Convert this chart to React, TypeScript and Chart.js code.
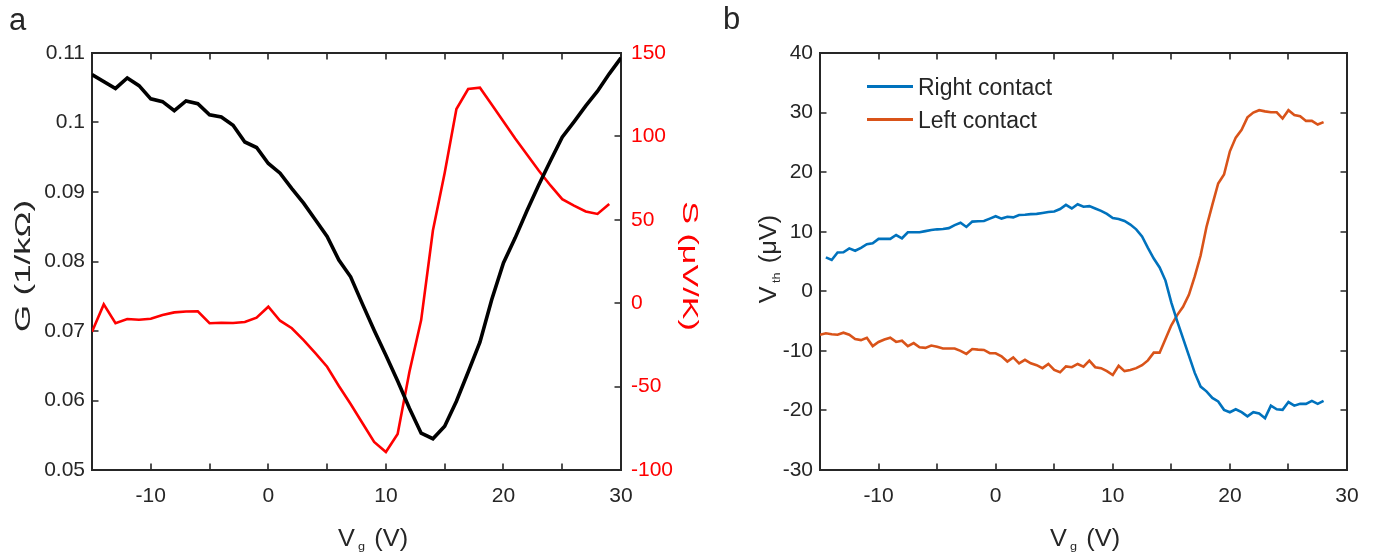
import React, { useEffect, useRef } from 'react';
import { Chart, registerables } from 'chart.js';
Chart.register(...registerables);

// ---------- Panel a data ----------
const gateG = [-15, -13, -12, -11, -10, -9, -8, -7, -6, -5, -4, -3, -2, -1, 0, 1, 2, 3, 4, 5, 6, 7, 8, 9, 10, 11, 12, 13, 14, 15, 16, 17, 18, 19, 20, 21, 22, 23, 24, 25, 26, 27, 28, 29, 30];
const conductance = [0.1069, 0.1049, 0.1064, 0.1053, 0.1034, 0.1030, 0.1017, 0.1031, 0.1027, 0.1011, 0.1008, 0.0996, 0.0972, 0.0964, 0.0941, 0.0927, 0.0905, 0.0884, 0.0860, 0.0836, 0.0802, 0.0778, 0.0739, 0.0701, 0.0665, 0.0628, 0.0589, 0.0553, 0.0545, 0.0563, 0.0599, 0.0641, 0.0684, 0.0745, 0.0798, 0.0834, 0.0873, 0.0910, 0.0945, 0.0979, 0.1001, 0.1024, 0.1045, 0.1070, 0.1093];
const gateS = [-15, -14, -13, -12, -11, -10, -9, -8, -7, -6, -5, -4, -3, -2, -1, 0, 1, 2, 3, 4, 5, 6, 7, 8, 9, 10, 11, 12, 13, 14, 15, 16, 17, 18, 19, 20, 21, 22, 23, 24, 25, 26, 27, 28, 29];
const seebeck = [-17.1, -0.7, -12.0, -9.5, -9.9, -9.3, -7.1, -5.5, -5.0, -4.9, -12.0, -11.7, -11.9, -11.3, -8.7, -2.1, -10.5, -15.0, -22.1, -30.0, -38.1, -49.6, -60.4, -71.8, -83.2, -89.2, -78.4, -41.2, -10.1, 43.6, 78.1, 116.4, 128.4, 129.2, 119.1, 108.9, 98.8, 89.2, 79.6, 70.6, 62.4, 58.5, 55.0, 53.5, 59.5];
const gTicks = [0.05, 0.06, 0.07, 0.08, 0.09, 0.1, 0.11];
const sTicks = [-100, -50, 0, 50, 100, 150];

// ---------- Panel b data ----------
const gateRight = [-14.5, -14, -13.5, -13, -12.5, -12, -11.5, -11, -10.5, -10, -9.5, -9, -8.5, -8, -7.5, -7, -6.5, -6, -5.5, -5, -4.5, -4, -3.5, -3, -2.5, -2, -1.5, -1, -0.5, 0, 0.5, 1, 1.5, 2, 2.5, 3, 3.5, 4, 4.5, 5, 5.5, 6, 6.5, 7, 7.5, 8, 8.5, 9, 9.5, 10, 10.5, 11, 11.5, 12, 12.5, 13, 13.5, 14, 14.5, 15, 15.5, 16, 16.5, 17, 17.5, 18, 18.5, 19, 19.5, 20, 20.5, 21, 21.5, 22, 22.5, 23, 23.5, 24, 24.5, 25, 25.5, 26, 26.5, 27, 27.5, 28];
const rightContact = [5.7, 5.25, 6.5, 6.55, 7.2, 6.8, 7.3, 7.9, 8.05, 8.8, 8.8, 8.8, 9.45, 8.9, 9.9, 9.9, 9.9, 10.1, 10.3, 10.4, 10.45, 10.6, 11.1, 11.5, 10.8, 11.7, 11.75, 11.8, 12.2, 12.6, 12.2, 12.5, 12.4, 12.8, 12.85, 12.95, 13.0, 13.15, 13.3, 13.4, 13.8, 14.5, 13.9, 14.6, 14.2, 14.3, 13.9, 13.5, 13.0, 12.3, 12.15, 11.8, 11.2, 10.4, 9.2, 7.3, 5.5, 4.0, 1.8, -1.9, -5.0, -7.9, -10.8, -13.7, -16.0, -16.8, -17.9, -18.5, -19.9, -20.3, -19.8, -20.3, -21.0, -20.3, -20.5, -21.3, -19.2, -19.8, -19.9, -18.6, -19.2, -18.9, -18.9, -18.4, -18.9, -18.4];
const gateLeft = [-15, -14.5, -14, -13.5, -13, -12.5, -12, -11.5, -11, -10.5, -10, -9.5, -9, -8.5, -8, -7.5, -7, -6.5, -6, -5.5, -5, -4.5, -4, -3.5, -3, -2.5, -2, -1.5, -1, -0.5, 0, 0.5, 1, 1.5, 2, 2.5, 3, 3.5, 4, 4.5, 5, 5.5, 6, 6.5, 7, 7.5, 8, 8.5, 9, 9.5, 10, 10.5, 11, 11.5, 12, 12.5, 13, 13.5, 14, 14.5, 15, 15.5, 16, 16.5, 17, 17.5, 18, 18.5, 19, 19.5, 20, 20.5, 21, 21.5, 22, 22.5, 23, 23.5, 24, 24.5, 25, 25.5, 26, 26.5, 27, 27.5, 28];
const leftContact = [-7.3, -7.05, -7.2, -7.3, -6.95, -7.3, -8.0, -8.2, -7.8, -9.2, -8.5, -8.1, -7.8, -8.5, -8.3, -9.2, -8.7, -9.4, -9.5, -9.1, -9.3, -9.6, -9.6, -9.6, -10.0, -10.5, -9.7, -9.8, -9.85, -10.4, -10.4, -10.9, -11.8, -11.1, -12.1, -11.5, -12.1, -12.4, -12.9, -12.2, -13.2, -13.6, -12.6, -12.75, -12.2, -12.66, -11.65, -12.75, -12.9, -13.4, -14.05, -12.5, -13.4, -13.2, -12.9, -12.4, -11.6, -10.3, -10.3, -8.0, -5.7, -4.0, -2.6, -0.6, 2.5, 6.0, 10.8, 14.5, 18.1, 19.6, 23.5, 25.8, 27.1, 29.2, 30.0, 30.4, 30.2, 30.05, 30.05, 29.0, 30.4, 29.6, 29.4, 28.6, 28.6, 28.0, 28.4];
const vthTicks = [-30, -20, -10, 0, 10, 20, 30, 40];
const gateTicks = [-15, -10, -5, 0, 5, 10, 15, 20, 25, 30];

const AXIS = '#262626';
const FONT = "'Liberation Sans', Arial, sans-serif";
const BLUE = '#0072BD';
const ORANGE = '#D95319';
const TICK_SIZE = 21;

const pts = (xs: number[], ys: number[]) => xs.map((x, i) => ({ x, y: ys[i] }));

// draws the box and inward tick marks using the chart's own scales
const frameTicks = {
  id: 'frameTicks',
  beforeDatasetsDraw(chart: any, _args: any, opts: any) {
    const { ctx, chartArea } = chart;
    const { left, right, top, bottom } = chartArea;
    const len = 6.5;
    ctx.save();
    ctx.strokeStyle = AXIS;
    ctx.lineWidth = 2;
    ctx.beginPath();
    ctx.rect(left, top, right - left, bottom - top);
    ctx.stroke();
    ctx.lineWidth = 1.6;
    const xs = chart.scales.x;
    ctx.beginPath();
    xs.ticks.forEach((t: any) => {
      const px = Math.round(xs.getPixelForValue(t.value));
      if (px <= left + 1 || px >= right - 1) return;
      ctx.moveTo(px, bottom); ctx.lineTo(px, bottom - len);
      ctx.moveTo(px, top); ctx.lineTo(px, top + len);
    });
    (opts.y || []).forEach((spec: any) => {
      const s = chart.scales[spec.id];
      s.ticks.forEach((t: any) => {
        const py = Math.round(s.getPixelForValue(t.value));
        if (py <= top + 1 || py >= bottom - 1) return;
        if (spec.left) { ctx.moveTo(left, py); ctx.lineTo(left + len, py); }
        if (spec.right) { ctx.moveTo(right, py); ctx.lineTo(right - len, py); }
      });
    });
    ctx.stroke();
    ctx.restore();
  },
};

const fixedTicks = (values: number[]) => (scale: any) => {
  scale.ticks = values.map((v) => ({ value: v }));
};

function PanelA() {
  const ref = useRef<HTMLCanvasElement>(null);
  useEffect(() => {
    const chart = new Chart(ref.current as HTMLCanvasElement, {
      type: 'line',
      data: {
        datasets: [
          { label: 'G', data: pts(gateG, conductance), borderColor: '#000000', borderWidth: 3.6, pointRadius: 0, yAxisID: 'yG', tension: 0 },
          { label: 'S', data: pts(gateS, seebeck), borderColor: '#FF0000', borderWidth: 2.6, pointRadius: 0, yAxisID: 'yS', tension: 0 },
        ],
      },
      options: {
        animation: false,
        responsive: false,
        devicePixelRatio: 1,
        layout: { padding: { top: 53, left: 0, right: 0, bottom: 0 } },
        plugins: { legend: { display: false }, tooltip: { enabled: false }, frameTicks: { y: [{ id: 'yG', left: true }, { id: 'yS', right: true }] } } as any,
        scales: {
          x: {
            type: 'linear', min: -15, max: 30,
            afterBuildTicks: fixedTicks(gateTicks),
            ticks: { autoSkip: false, maxRotation: 0, padding: 14, color: AXIS, font: { family: FONT, size: TICK_SIZE }, callback: (v: any) => (Number(v) % 10 === 0 ? String(v) : '') },
            grid: { display: false, drawTicks: false },
            border: { display: false },
            afterFit: (s: any) => { s.height = 90; },
          },
          yG: {
            type: 'linear', position: 'left', min: 0.05, max: 0.11,
            afterBuildTicks: fixedTicks(gTicks),
            ticks: { padding: 7, color: AXIS, font: { family: FONT, size: TICK_SIZE }, callback: (v: any) => String(Number(Number(v).toFixed(2))) },
            grid: { display: false, drawTicks: false },
            border: { display: false },
            afterFit: (s: any) => { s.width = 92; },
          },
          yS: {
            type: 'linear', position: 'right', min: -100, max: 150,
            afterBuildTicks: fixedTicks(sTicks),
            ticks: { padding: 10, color: '#FF0000', font: { family: FONT, size: TICK_SIZE }, callback: (v: any) => String(v) },
            grid: { display: false, drawTicks: false },
            border: { display: false },
            afterFit: (s: any) => { s.width = 79; },
          },
        },
      },
      plugins: [frameTicks],
    });
    return () => chart.destroy();
  }, []);
  return <canvas ref={ref} width={700} height={560} style={{ position: 'absolute', left: 0, top: 0, width: 700, height: 560 }} />;
}

function PanelB() {
  const ref = useRef<HTMLCanvasElement>(null);
  useEffect(() => {
    const chart = new Chart(ref.current as HTMLCanvasElement, {
      type: 'line',
      data: {
        datasets: [
          { label: 'Right contact', data: pts(gateRight, rightContact), borderColor: BLUE, borderWidth: 2.6, pointRadius: 0, tension: 0 },
          { label: 'Left contact', data: pts(gateLeft, leftContact), borderColor: ORANGE, borderWidth: 2.6, pointRadius: 0, tension: 0 },
        ],
      },
      options: {
        animation: false,
        responsive: false,
        devicePixelRatio: 1,
        layout: { padding: { top: 53, left: 0, right: 43, bottom: 0 } },
        plugins: { legend: { display: false }, tooltip: { enabled: false }, frameTicks: { y: [{ id: 'y', left: true, right: true }] } } as any,
        scales: {
          x: {
            type: 'linear', min: -15, max: 30,
            afterBuildTicks: fixedTicks(gateTicks),
            ticks: { autoSkip: false, maxRotation: 0, padding: 14, color: AXIS, font: { family: FONT, size: TICK_SIZE }, callback: (v: any) => (Number(v) % 10 === 0 ? String(v) : '') },
            grid: { display: false, drawTicks: false },
            border: { display: false },
            afterFit: (s: any) => { s.height = 90; },
          },
          y: {
            type: 'linear', position: 'left', min: -30, max: 40,
            afterBuildTicks: fixedTicks(vthTicks),
            ticks: { padding: 7, color: AXIS, font: { family: FONT, size: TICK_SIZE }, callback: (v: any) => String(v) },
            grid: { display: false, drawTicks: false },
            border: { display: false },
            afterFit: (s: any) => { s.width = 120; },
          },
        },
      },
      plugins: [frameTicks],
    });
    return () => chart.destroy();
  }, []);
  return <canvas ref={ref} width={690} height={560} style={{ position: 'absolute', left: 700, top: 0, width: 690, height: 560 }} />;
}

const txt: React.CSSProperties = { position: 'absolute', fontFamily: FONT, color: AXIS, whiteSpace: 'nowrap', lineHeight: 1 };
const sub: React.CSSProperties = { fontSize: '0.5em', verticalAlign: '-0.35em', marginLeft: 3, marginRight: 2 };

export default function App() {
  return (
    <div style={{ position: 'fixed', left: 0, top: 0, width: 1390, height: 560, background: '#fff', overflow: 'hidden' }}>
      <PanelA />
      <PanelB />
      <div style={{ ...txt, left: 9, top: 4, fontSize: 31 }}>a</div>
      <div style={{ ...txt, left: 723, top: 3, fontSize: 31 }}>b</div>
      <div style={{ ...txt, left: 23, top: 266, fontSize: 22, transform: 'translate(-50%, -50%) rotate(-90deg) scaleX(1.58)' }}>G (1/kΩ)</div>
      <div style={{ ...txt, left: 690, top: 266, fontSize: 22, color: '#FF0000', transform: 'translate(-50%, -50%) rotate(90deg) scaleX(1.55)' }}>S (μV/K)</div>
      <div style={{ ...txt, left: 373, top: 540, fontSize: 23, transform: 'translate(-50%, -50%) scaleX(1.1)' }}>V<span style={sub}>g</span> (V)</div>
      <div style={{ ...txt, left: 1085, top: 540, fontSize: 23, transform: 'translate(-50%, -50%) scaleX(1.1)' }}>V<span style={sub}>g</span> (V)</div>
      <div style={{ ...txt, left: 770, top: 259, fontSize: 23, transform: 'translate(-50%, -50%) rotate(-90deg) scaleX(1.1)' }}>V<span style={sub}>th</span> (μV)</div>
      <div style={{ position: 'absolute', left: 867, top: 85, width: 46, height: 3, background: BLUE }} />
      <div style={{ ...txt, left: 918, top: 76, fontSize: 23 }}>Right contact</div>
      <div style={{ position: 'absolute', left: 867, top: 118, width: 46, height: 3, background: ORANGE }} />
      <div style={{ ...txt, left: 918, top: 109, fontSize: 23 }}>Left contact</div>
    </div>
  );
}
